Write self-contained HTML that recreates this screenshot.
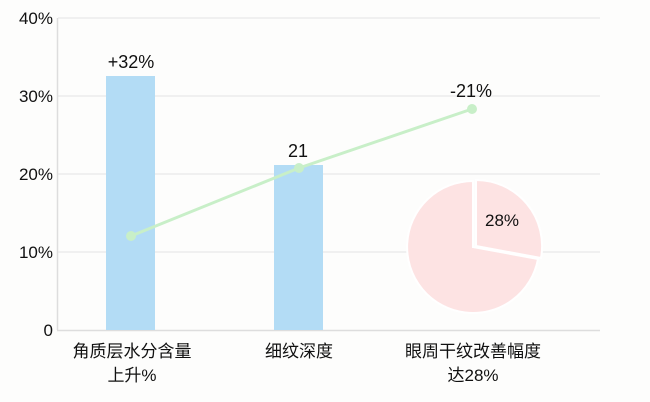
<!DOCTYPE html>
<html><head><meta charset="utf-8"><style>
html,body{margin:0;padding:0;background:#fdfdfc;}
svg{display:block;}
text{font-family:"Liberation Sans","Noto Sans CJK SC",sans-serif;fill:#111;}
</style></head><body>
<svg width="650" height="402" viewBox="0 0 650 402">
<rect width="650" height="402" fill="#fdfdfc"/>
<g stroke="#ececec" stroke-width="1.5">
<line x1="58" y1="18" x2="600" y2="18"/>
<line x1="58" y1="96" x2="600" y2="96"/>
<line x1="58" y1="174" x2="600" y2="174"/>
<line x1="58" y1="252" x2="600" y2="252"/>
</g>
<line x1="57.5" y1="18" x2="57.5" y2="330" stroke="#ddd" stroke-width="1.5"/>
<line x1="57" y1="330.5" x2="600" y2="330.5" stroke="#ddd" stroke-width="1.5"/>
<g font-size="17" text-anchor="end">
<text x="53" y="24">40%</text>
<text x="53" y="102">30%</text>
<text x="53" y="180">20%</text>
<text x="53" y="258">10%</text>
<text x="53" y="336">0</text>
</g>
<rect x="106" y="76" width="49" height="254" fill="#b3dcf5"/>
<rect x="274" y="165" width="49" height="165" fill="#b3dcf5"/>
<g font-size="18" text-anchor="middle">
<text x="131" y="68">+32%</text>
<text x="298" y="157">21</text>
<text x="471" y="97">-21%</text>
</g>
<polyline points="131,236 299,168 472,109" fill="none" stroke="#c8efc8" stroke-width="3"/>
<g fill="#c8efc8"><circle cx="131" cy="236" r="5"/><circle cx="299" cy="168" r="5"/><circle cx="472" cy="109" r="5"/></g>
<path d="M473,247 L538,259 A66,66 0 1 1 473,181 Z" fill="#fde3e3" stroke="#fff" stroke-width="2"/>
<path d="M476,246 L476,180 A66,66 0 0 1 541,258 Z" fill="#fde3e3" stroke="#fff" stroke-width="2"/>
<text x="502" y="226" font-size="17" text-anchor="middle">28%</text>
<g font-size="17" text-anchor="middle">
<text x="132" y="357">角质层水分含量</text>
<text x="132" y="381">上升%</text>
<text x="299" y="357">细纹深度</text>
<text x="473" y="357">眼周干纹改善幅度</text>
<text x="473" y="381">达28%</text>
</g>
</svg>
</body></html>
